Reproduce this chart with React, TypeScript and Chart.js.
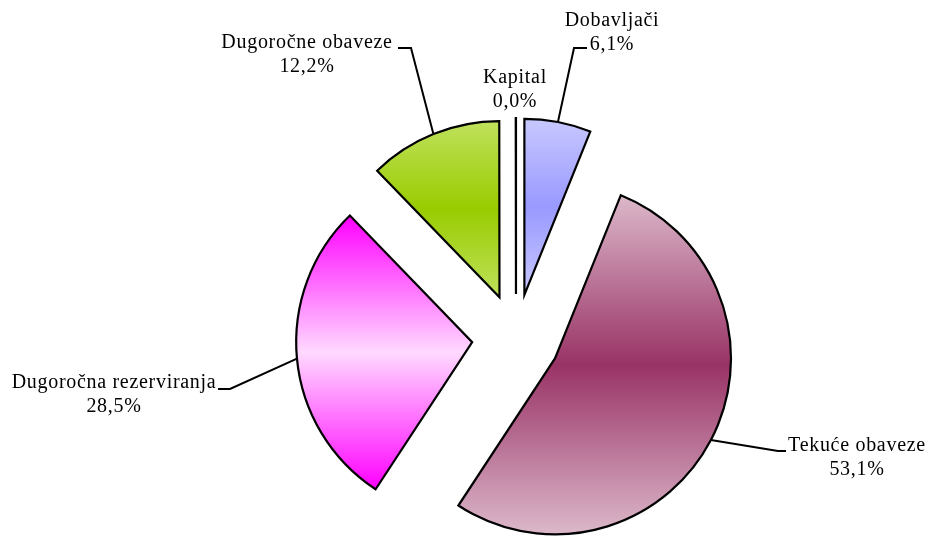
import React, { useEffect, useRef } from "react";
import { Chart, PieController, ArcElement } from "chart.js";

Chart.register(PieController, ArcElement);

// ---- data ----
const categories = [
  "Dobavljači",
  "Tekuće obaveze",
  "Dugoročna rezerviranja",
  "Dugoročne obaveze",
  "Kapital",
];
const shares = [6.1, 53.1, 28.5, 12.2, 0.02];

// ---- styles ----
const edgeColors = ["#c8c8ff", "#dcb8ca", "#ff00ff", "#bfe15c", "#000000"];
const centerColors = ["#9999ff", "#993366", "#ffd9ff", "#99cc00", "#000000"];

const RADIUS = 176;
const EXPLODE = 44;
const FONT = '20px "Liberation Serif", "Times New Roman", serif';
const LINE_H = 24;

// label block: centre x and first baseline y; leader elbow and end points
const labelLayout = [
  { x: 612, y: 26, elbow: [574, 48], end: [587, 48] },
  { x: 857, y: 451, elbow: [778, 451], end: [786, 451] },
  { x: 114, y: 388, elbow: [230, 389], end: [218, 389] },
  { x: 307, y: 48, elbow: [411, 48], end: [398, 48] },
  { x: 515, y: 83, elbow: null, end: null },
] as const;

const total = shares.reduce((a, b) => a + b, 0);
const pct = (v: number) => ((v / total) * 100).toFixed(1).replace(".", ",") + "%";

function sliceGradient(ctx: any) {
  const chart = ctx.chart;
  const area = chart.chartArea;
  const i = ctx.dataIndex;
  if (!area || i === undefined) return centerColors[0];
  let before = 0;
  for (let k = 0; k < i; k++) before += shares[k];
  const a0 = -Math.PI / 2 + (2 * Math.PI * before) / total;
  const a1 = a0 + (2 * Math.PI * shares[i]) / total;
  const mid = (a0 + a1) / 2;
  const cy = (area.top + area.bottom) / 2 + EXPLODE * Math.sin(mid);
  const ys = [cy, cy + RADIUS * Math.sin(a0), cy + RADIUS * Math.sin(a1)];
  for (const t of [-Math.PI / 2, Math.PI / 2, (3 * Math.PI) / 2]) {
    if (t > a0 && t < a1) ys.push(cy + RADIUS * Math.sin(t));
  }
  const y0 = Math.min(...ys);
  const y1 = Math.max(...ys);
  const g = chart.ctx.createLinearGradient(0, y0, 0, y1 > y0 ? y1 : y0 + 1);
  g.addColorStop(0, edgeColors[i]);
  g.addColorStop(0.5, centerColors[i]);
  g.addColorStop(1, edgeColors[i]);
  return g;
}

const explodePlugin = {
  id: "explode",
  beforeDatasetsDraw(chart: any) {
    const meta = chart.getDatasetMeta(0);
    const { left, right, top, bottom } = chart.chartArea;
    const cx = (left + right) / 2;
    const cy = (top + bottom) / 2;
    meta.data.forEach((arc: any) => {
      const mid = (arc.startAngle + arc.endAngle) / 2;
      arc.x = cx + EXPLODE * Math.cos(mid);
      arc.y = cy + EXPLODE * Math.sin(mid);
    });
  },
};

const labelPlugin = {
  id: "sliceLabels",
  afterDatasetsDraw(chart: any) {
    const ctx = chart.ctx;
    const meta = chart.getDatasetMeta(0);
    ctx.save();
    meta.data.forEach((arc: any, i: number) => {
      const lay = labelLayout[i];
      if (lay.elbow && lay.end) {
        const mid = (arc.startAngle + arc.endAngle) / 2;
        const sx = arc.x + arc.outerRadius * Math.cos(mid);
        const sy = arc.y + arc.outerRadius * Math.sin(mid);
        ctx.beginPath();
        ctx.moveTo(sx, sy);
        ctx.lineTo(lay.elbow[0], lay.elbow[1]);
        ctx.lineTo(lay.end[0], lay.end[1]);
        ctx.strokeStyle = "#000";
        ctx.lineWidth = 2;
        ctx.lineJoin = "miter";
        ctx.stroke();
      }
      ctx.font = FONT;
      (ctx as any).letterSpacing = "0.7px";
      ctx.fillStyle = "#000";
      ctx.textAlign = "center";
      ctx.textBaseline = "alphabetic";
      ctx.fillText(categories[i], lay.x, lay.y);
      ctx.fillText(pct(shares[i]), lay.x, lay.y + LINE_H);
    });
    ctx.restore();
  },
};

export default function App() {
  const ref = useRef<HTMLCanvasElement | null>(null);
  useEffect(() => {
    if (!ref.current) return;
    const chart = new Chart(ref.current, {
      type: "pie",
      data: {
        labels: categories,
        datasets: [
          {
            data: shares,
            backgroundColor: sliceGradient,
            borderColor: "#000",
            borderWidth: 2.2,
            borderJoinStyle: "miter",
            hoverOffset: 0,
            offset: 0,
            radius: RADIUS,
          } as any,
        ],
      },
      options: {
        animation: false,
        responsive: false,
        devicePixelRatio: 1,
        events: [],
        radius: RADIUS,
        layout: { padding: { left: 97, top: 140, right: 0, bottom: 0 } },
        plugins: {
          legend: { display: false },
          tooltip: { enabled: false },
        },
      } as any,
      plugins: [explodePlugin, labelPlugin],
    });
    return () => chart.destroy();
  }, []);
  return (
    <div
      style={{
        position: "absolute",
        left: 0,
        top: 0,
        width: 935,
        height: 536,
        background: "#fff",
      }}
    >
      <canvas ref={ref} width={935} height={536} />
    </div>
  );
}
